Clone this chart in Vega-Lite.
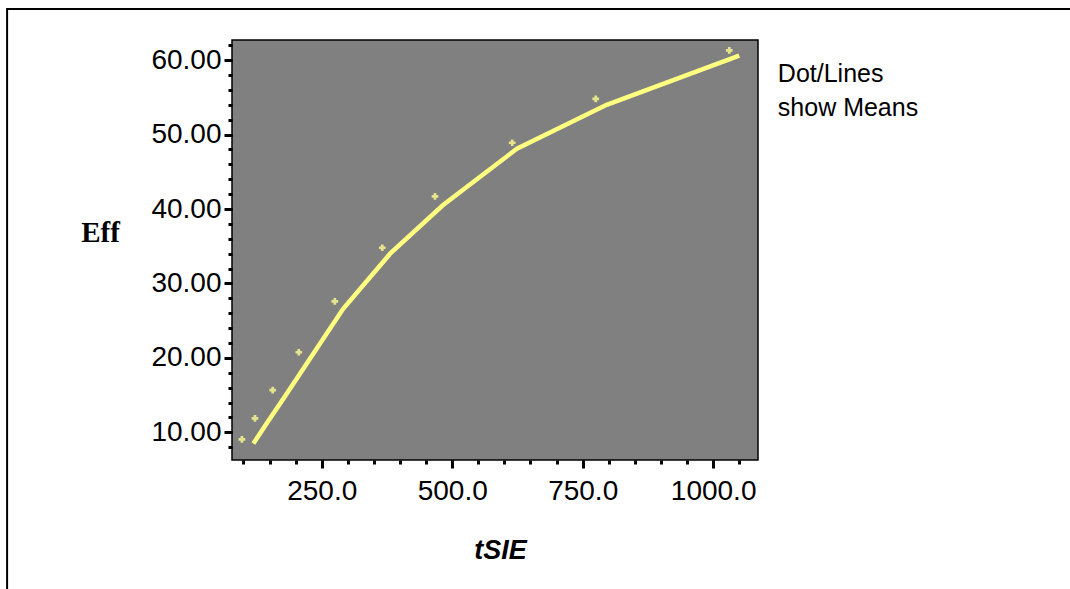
{
  "$schema": "https://vega.github.io/schema/vega-lite/v6.json",
  "width": 526,
  "height": 420,
  "autosize": "none",
  "padding": {"left": 232, "top": 40, "right": 312, "bottom": 129},
  "background": "#ffffff",
  "config": {
    "view": {"fill": "#808080", "stroke": "#000000", "strokeWidth": 1.5},
    "axis": {
      "domain": false, "grid": false,
      "tickColor": "#000000", "tickWidth": 3,
      "labelFont": "Liberation Sans", "labelFontSize": 28, "labelColor": "#000000",
      "titleColor": "#000000"
    }
  },
  "datasets": {
    "means": [
      {"tSIE": 97, "Eff": 9.06},
      {"tSIE": 122, "Eff": 11.88},
      {"tSIE": 156, "Eff": 15.67},
      {"tSIE": 206, "Eff": 20.76},
      {"tSIE": 275, "Eff": 27.6},
      {"tSIE": 366, "Eff": 34.8},
      {"tSIE": 467, "Eff": 41.7},
      {"tSIE": 615, "Eff": 48.9},
      {"tSIE": 775, "Eff": 54.8},
      {"tSIE": 1031, "Eff": 61.3}
    ],
    "fit": [
      {"tSIE": 119, "Eff": 8.5},
      {"tSIE": 144, "Eff": 11.15},
      {"tSIE": 178, "Eff": 14.7},
      {"tSIE": 228, "Eff": 19.97},
      {"tSIE": 291, "Eff": 26.6},
      {"tSIE": 381, "Eff": 34.0},
      {"tSIE": 482, "Eff": 40.5},
      {"tSIE": 624, "Eff": 48.1},
      {"tSIE": 796, "Eff": 54.0},
      {"tSIE": 1050, "Eff": 60.6}
    ],
    "one": [{"k": 1}]
  },
  "layer": [
    {
      "data": {"name": "one"},
      "mark": {"type": "rect", "fill": null, "filled": false, "stroke": "#000000", "strokeWidth": 2, "clip": false},
      "encoding": {
        "x": {"datum": -353, "type": "quantitative", "scale": {"domain": [78, 1086], "nice": false, "zero": false}, "axis": null},
        "x2": {"datum": 2500},
        "y": {"datum": 66.88, "type": "quantitative", "scale": {"domain": [6.29, 62.7], "nice": false, "zero": false}, "axis": null},
        "y2": {"datum": -40}
      }
    },
    {
      "data": {"name": "fit"},
      "mark": {"type": "line", "color": "#ffff80", "strokeWidth": 4.5, "clip": true},
      "encoding": {
        "x": {"field": "tSIE", "type": "quantitative",
              "scale": {"domain": [78, 1086], "nice": false, "zero": false},
              "axis": {"orient": "bottom", "values": [100,150,200,250,300,350,400,450,500,550,600,650,700,750,800,850,900,950,1000,1050], "labels": false, "tickSize": 4, "title": null}},
        "y": {"field": "Eff", "type": "quantitative",
              "scale": {"domain": [6.29, 62.7], "nice": false, "zero": false},
              "axis": {"orient": "left", "values": [8,10,12,14,16,18,20,22,24,26,28,30,32,34,36,38,40,42,44,46,48,50,52,54,56,58,60,62], "labels": false, "tickSize": 4, "title": null}}
      }
    },
    {
      "data": {"name": "means"},
      "mark": {"type": "point", "shape": "cross", "filled": true, "size": 45, "color": "#e4e48c", "opacity": 1},
      "encoding": {
        "x": {"field": "tSIE", "type": "quantitative",
              "scale": {"domain": [78, 1086], "nice": false, "zero": false},
              "axis": {"orient": "bottom", "values": [250, 500, 750, 1000], "format": ".1f", "tickSize": 8, "labelPadding": 9,
                       "title": "tSIE", "titleFont": "Liberation Sans", "titleFontSize": 27, "titleFontWeight": "bold", "titleFontStyle": "italic",
                       "titleX": 268, "titleY": 98, "titleBaseline": "alphabetic", "titleAnchor": "middle"}},
        "y": {"field": "Eff", "type": "quantitative",
              "scale": {"domain": [6.29, 62.7], "nice": false, "zero": false},
              "axis": {"orient": "left", "values": [10, 20, 30, 40, 50, 60], "format": ".2f", "tickSize": 8, "labelPadding": 3,
                       "title": "Eff", "titleFont": "Liberation Serif", "titleFontSize": 29, "titleFontWeight": "bold",
                       "titleAngle": 0, "titleAlign": "center", "titleBaseline": "alphabetic", "titleX": -132, "titleY": 201}}
      }
    },
    {
      "data": {"name": "one"},
      "mark": {"type": "text", "align": "left", "baseline": "alphabetic", "font": "Liberation Sans", "fontSize": 25, "color": "#000000", "lineHeight": 34, "clip": false},
      "encoding": {
        "x": {"datum": 1124, "type": "quantitative", "scale": {"domain": [78, 1086], "nice": false, "zero": false}, "axis": null},
        "y": {"datum": 57.0, "type": "quantitative", "scale": {"domain": [6.29, 62.7], "nice": false, "zero": false}, "axis": null},
        "text": {"value": ["Dot/Lines", "show Means"]}
      }
    }
  ],
  "resolve": {"axis": {"x": "independent", "y": "independent"}}
}
